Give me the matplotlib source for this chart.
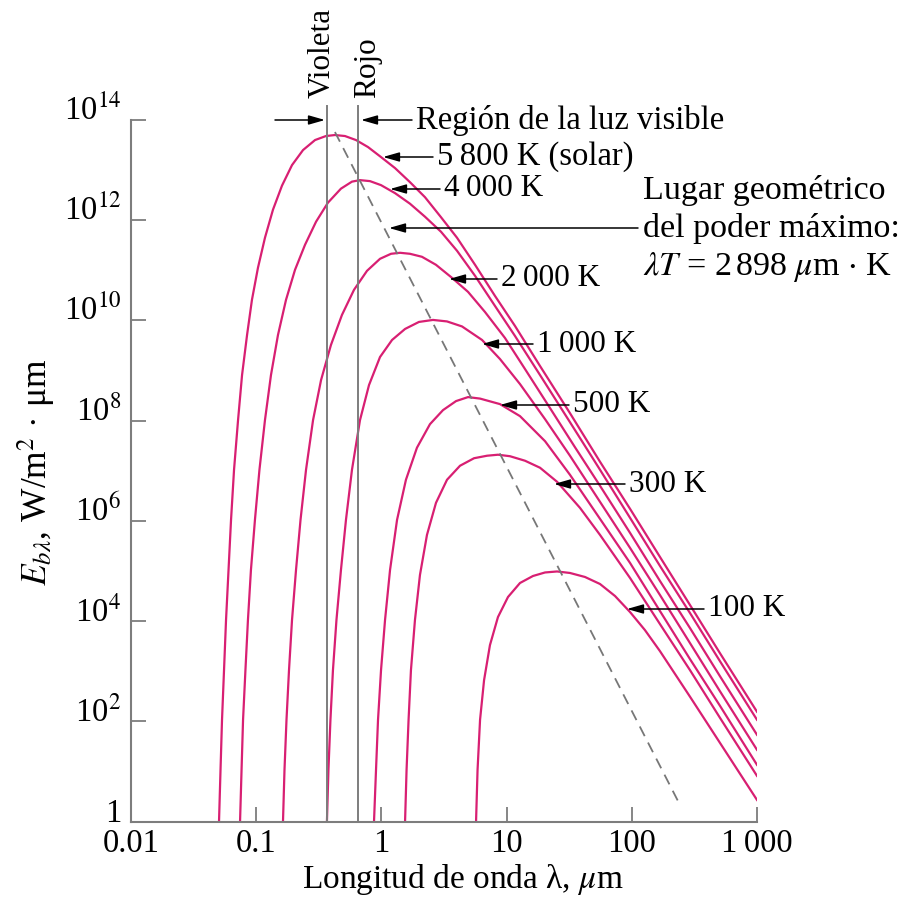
import numpy as np
import matplotlib
matplotlib.use("Agg")
import matplotlib.pyplot as plt

# emisión espectral del cuerpo negro:
# log10(lambda / um) y log10(E / W m^-2 um^-1)
loglam_5800 = [-1.297, -1.285, -1.273, -1.257, -1.241, -1.221, -1.201, -1.177, -1.145, -1.113,
               -1.073, -1.034, -0.986, -0.930, -0.866, -0.794, -0.714, -0.626, -0.530, -0.443,
               -0.371, -0.291, -0.203, -0.107, -0.003, 0.109, 0.228, 0.348, 0.476, 0.604,
               0.748, 0.907, 1.067, 1.267, 1.506, 1.746, 1.986, 2.225, 2.465, 2.704, 3.0]
logE_5800 = [0, 1.03, 2.03, 3.02, 4.02, 5.02, 6.02, 7.02, 8.01, 8.91,
             9.71, 10.41, 11.05, 11.65, 12.21, 12.69, 13.10, 13.40, 13.60, 13.68,
             13.70, 13.68, 13.60, 13.46, 13.26, 13.04, 12.76, 12.46, 12.06, 11.65,
             11.11, 10.49, 9.89, 9.09, 8.15, 7.18, 6.24, 5.28, 4.32, 3.36, 2.19]

loglam_4000 = [-1.129, -1.117, -1.105, -1.086, -1.066, -1.042, -1.010, -0.974, -0.930, -0.882,
               -0.826, -0.762, -0.690, -0.610, -0.522, -0.427, -0.323, -0.235, -0.171,
               -0.091, -0.003, 0.109, 0.228, 0.348, 0.476, 0.604, 0.748, 0.907, 1.067,
               1.267, 1.506, 1.746, 1.986, 2.225, 2.465, 2.704, 3.0]
logE_4000 = [0, 1.03, 2.03, 3.02, 4.02, 5.02, 6.02, 7.02, 8.01, 8.91,
             9.71, 10.41, 11.01, 11.51, 11.97, 12.35, 12.63, 12.77, 12.80,
             12.78, 12.70, 12.54, 12.33, 12.07, 11.77, 11.39, 10.89, 10.29, 9.69,
             8.91, 7.97, 7.02, 6.06, 5.10, 4.16, 3.20, 2.03]

loglam_2000 = [-0.786, -0.774, -0.758, -0.738, -0.714, -0.682, -0.646, -0.602, -0.546, -0.482,
               -0.403, -0.315, -0.219, -0.115, -0.011, 0.077, 0.149,
               0.228, 0.324, 0.436, 0.564, 0.692, 0.827, 0.987, 1.147, 1.347, 1.546,
               1.746, 1.986, 2.225, 2.465, 2.704, 3.0]
logE_2000 = [0, 1.03, 2.03, 3.02, 4.02, 5.02, 6.02, 7.02, 8.01, 8.81,
             9.51, 10.11, 10.61, 10.99, 11.23, 11.33, 11.35,
             11.33, 11.27, 11.11, 10.85, 10.57, 10.17, 9.65, 9.03, 8.25, 7.47,
             6.70, 5.76, 4.80, 3.86, 2.90, 1.73]

loglam_1000 = [-0.435, -0.423, -0.407, -0.387, -0.359, -0.323, -0.283, -0.235, -0.171, -0.099,
               -0.011, 0.085, 0.189, 0.300, 0.412,
               0.524, 0.644, 0.804, 0.947, 1.107, 1.307, 1.506, 1.746, 1.986, 2.225,
               2.465, 2.704, 3.0]
logE_1000 = [0, 1.03, 2.03, 3.02, 4.02, 5.02, 6.02, 7.02, 8.01, 8.71,
             9.27, 9.61, 9.83, 9.97, 10.01,
             9.98, 9.88, 9.61, 9.23, 8.73, 8.03, 7.30, 6.38, 5.46, 4.52,
             3.56, 2.60, 1.43]

loglam_500 = [-0.059, -0.043, -0.027, -0.003, 0.029, 0.069, 0.125, 0.196, 0.284, 0.388,
              0.492, 0.596, 0.692,
              0.788, 0.947, 1.107, 1.307, 1.506, 1.746, 1.986, 2.225, 2.465, 2.704, 3.0]
logE_500 = [0, 1.03, 2.03, 3.02, 4.02, 5.02, 6.02, 6.82, 7.46, 7.93,
            8.21, 8.39, 8.47,
            8.44, 8.33, 8.09, 7.59, 6.92, 6.04, 5.16, 4.20, 3.24, 2.31, 1.13]

loglam_300 = [0.189, 0.201, 0.217, 0.236, 0.268, 0.308, 0.364, 0.436, 0.524, 0.628,
              0.740, 0.844, 0.931,
              1.027, 1.147, 1.267, 1.403, 1.586, 1.746, 1.986, 2.225, 2.465, 2.704, 3.0]
logE_300 = [0, 1.03, 2.03, 3.02, 4.02, 4.92, 5.72, 6.36, 6.82, 7.10,
            7.25, 7.30, 7.32,
            7.29, 7.20, 7.06, 6.78, 6.26, 5.72, 4.86, 3.94, 3.02, 2.07, 0.91]

loglam_100 = [0.756, 0.768, 0.788, 0.820, 0.867, 0.931, 1.011, 1.107, 1.211, 1.307, 1.403,
              1.506, 1.626, 1.746, 1.866, 1.986, 2.105, 2.225, 2.465, 2.704, 3.0]
logE_100 = [0, 1.03, 2.03, 2.82, 3.52, 4.08, 4.48, 4.76, 4.90, 4.97, 4.99,
            4.96, 4.88, 4.74, 4.50, 4.18, 3.82, 3.40, 2.49, 1.57, 0.43]

curves = [(loglam_5800, logE_5800), (loglam_4000, logE_4000), (loglam_2000, logE_2000),
          (loglam_1000, logE_1000), (loglam_500, logE_500), (loglam_300, logE_300),
          (loglam_100, logE_100)]

# lugar geométrico del poder máximo (línea discontinua)
wien_loglam = [-0.371, 2.385]
wien_logE = [13.76, 0.33]

# límites de la región visible, um
lam_violeta = 0.366
lam_rojo = 0.654

xticks = [0.01, 0.1, 1, 10, 100, 1000]
xticklabels = ["0.01", "0.1", "1", "10", "100", "1\u2009000"]
yticks = [1, 1e2, 1e4, 1e6, 1e8, 1e10, 1e12, 1e14]
yticklabels = ["1"] + ["10$^{%d}$" % k for k in range(2, 15, 2)]

plt.rcParams["font.family"] = ["Liberation Serif", "DejaVu Serif"]
plt.rcParams["mathtext.fontset"] = "stix"

W, H = 901, 897
fig = plt.figure(figsize=(W / 100, H / 100), dpi=100)
ax = fig.add_axes([131 / W, 1 - 821.5 / H, 626 / W, 701.5 / H])


def fxy(px, py):
    return (px / W, 1 - py / H)


pink = "#d81f72"
grey = "#7d7d7d"

for loglam, logE in curves:
    ax.plot(10.0 ** np.array(loglam), 10.0 ** np.array(logE), color=pink, lw=1.6,
            solid_joinstyle="round")

ax.plot(10.0 ** np.array(wien_loglam), 10.0 ** np.array(wien_logE), color="#777777",
        lw=1.3, ls=(0, (6, 4)))

for lv in (lam_violeta, lam_rojo):
    ax.plot([lv, lv], [1, 10 ** 14.27], color=grey, lw=1.4, clip_on=False)

ax.set_xscale("log")
ax.set_yscale("log")
ax.set_xlim(0.01, 1000)
ax.set_ylim(1, 1e14)
ax.set_xticks(xticks)
ax.set_xticklabels(xticklabels)
ax.set_yticks(yticks)
ax.set_yticklabels(yticklabels)
ax.minorticks_off()
ax.tick_params(direction="in", length=11, width=1.3, color=grey, labelsize=23.5, pad=7)
ax.tick_params(axis="x", pad=5)
for lab in ax.get_yticklabels():
    lab.set_verticalalignment("baseline")
for s in ("top", "right"):
    ax.spines[s].set_visible(False)
for s in ("left", "bottom"):
    ax.spines[s].set_color(grey)
    ax.spines[s].set_linewidth(1.5)

fs = 22.5
arrow = dict(arrowstyle="-|>,head_length=0.7,head_width=0.2", color="black", lw=1.1,
             mutation_scale=14, shrinkA=0, shrinkB=0)


def label(text, tip, tail, size=fs):
    ax.annotate("", xy=fxy(*tip), xytext=fxy(*tail), xycoords="figure fraction",
                textcoords="figure fraction", arrowprops=arrow)
    fig.text(*fxy(tail[0] + 4, tail[1]), text, fontsize=size, ha="left", va="center")


# región visible
ax.annotate("", xy=fxy(325, 120), xytext=fxy(275, 120), xycoords="figure fraction",
            textcoords="figure fraction", arrowprops=arrow)
label("Región de la luz visible", (361, 120), (412, 120), size=23.5)
fig.text(*fxy(322, 98), "Violeta", rotation=90, fontsize=fs, ha="center", va="bottom")
fig.text(*fxy(368, 98), "Rojo", rotation=90, fontsize=fs, ha="center", va="bottom")

label("5\u2009800 K (solar)", (383, 157), (433, 157), size=23.5)
label("4\u2009000 K", (390, 189), (440, 189))
label("2\u2009000 K", (449, 279), (497, 279))
label("1\u2009000 K", (482, 344), (533, 344))
label("500 K", (500, 405), (569, 405))
label("300 K", (554, 484), (625, 484))
label("100 K", (627, 609), (704, 609))

ax.annotate("", xy=fxy(389, 228), xytext=fxy(638, 228), xycoords="figure fraction",
            textcoords="figure fraction", arrowprops=arrow)
fs_lugar = 24.5
fig.text(*fxy(643, 190), "Lugar geométrico", fontsize=fs_lugar, ha="left", va="center")
fig.text(*fxy(643, 229), "del poder máximo:", fontsize=fs_lugar, ha="left", va="center")
fig.text(*fxy(643, 267), r"$\lambda T$ = 2$\,$898 $\mu$m $\cdot$ K", fontsize=fs_lugar,
         ha="left", va="center")

fig.text(*fxy(463, 879), r"Longitud de onda λ, $\mu$m", fontsize=24, ha="center",
         va="center")
fig.text(*fxy(37, 472), r"$E_{b\lambda}$, W/m$^2$ · μm", fontsize=25.5, rotation=90,
         ha="center", va="center")

fig.savefig("out.png", dpi=100, facecolor="white")
